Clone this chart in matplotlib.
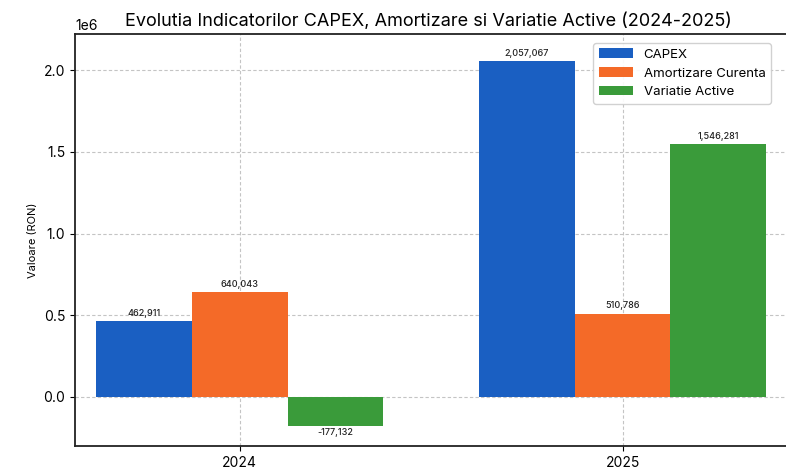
import matplotlib
matplotlib.use("Agg")

import matplotlib.pyplot as plt
import numpy as np

# ---------------------------------------------------------------------------
# Data
# ---------------------------------------------------------------------------
years = ["2024", "2025"]
capex = [462911, 2057067]
amortizare = [640043, 510786]
variatie = [-177132, 1546281]

series_names = ["CAPEX", "Amortizare Curenta", "Variatie Active"]
COLORS = ["#1a5fc2", "#f46a28", "#3a9b3a"]

plt.rcParams["font.family"] = ["Inter", "DejaVu Sans"]

fig = plt.figure(figsize=(7.86, 4.69), dpi=100)
ax = fig.add_axes([0.0954, 0.049, 0.95, 0.878])

x = np.arange(len(years))
width = 0.25

for i, (vals, name, col) in enumerate(zip([capex, amortizare, variatie], series_names, COLORS)):
    bars = ax.bar(x + (i - 1) * width, vals, width, label=name, color=col, zorder=3)
    for b, v in zip(bars, vals):
        if v >= 0:
            ax.text(b.get_x() + b.get_width() / 2, v + 0.02e6, f"{v:,}",
                    ha="center", va="bottom", fontsize=6.5, color="#222222",
                    fontweight="medium")
        else:
            ax.text(b.get_x() + b.get_width() / 2, v - 0.015e6, f"{v:,}",
                    ha="center", va="top", fontsize=6.5, color="#222222",
                    fontweight="medium")

ax.set_xticks(x)
ax.set_xticklabels(years, fontsize=10)
ax.tick_params(axis="y", labelsize=10)
ax.set_xlim(-0.43, 1.52)
ax.set_ylim(-0.3e6, 2.22e6)
ax.set_ylabel("Valoare (RON)", fontsize=8)
ax.set_title("Evolutia Indicatorilor CAPEX, Amortizare si Variatie Active (2024-2025)",
             fontsize=13, pad=6, x=0.473)

ax.grid(True, linestyle=(0, (3, 2)), color="#c4c4c4", linewidth=0.8, zorder=0)
ax.set_axisbelow(True)
for s in ax.spines.values():
    s.set_linewidth(1.3)
    s.set_color("#222222")
ax.spines["right"].set_visible(False)

ax.legend(loc="upper right", fontsize=9.5, framealpha=0.9,
          bbox_to_anchor=(0.989, 0.922), bbox_transform=fig.transFigure,
          handlelength=2.6)

fig.savefig("out.png", dpi=100)
